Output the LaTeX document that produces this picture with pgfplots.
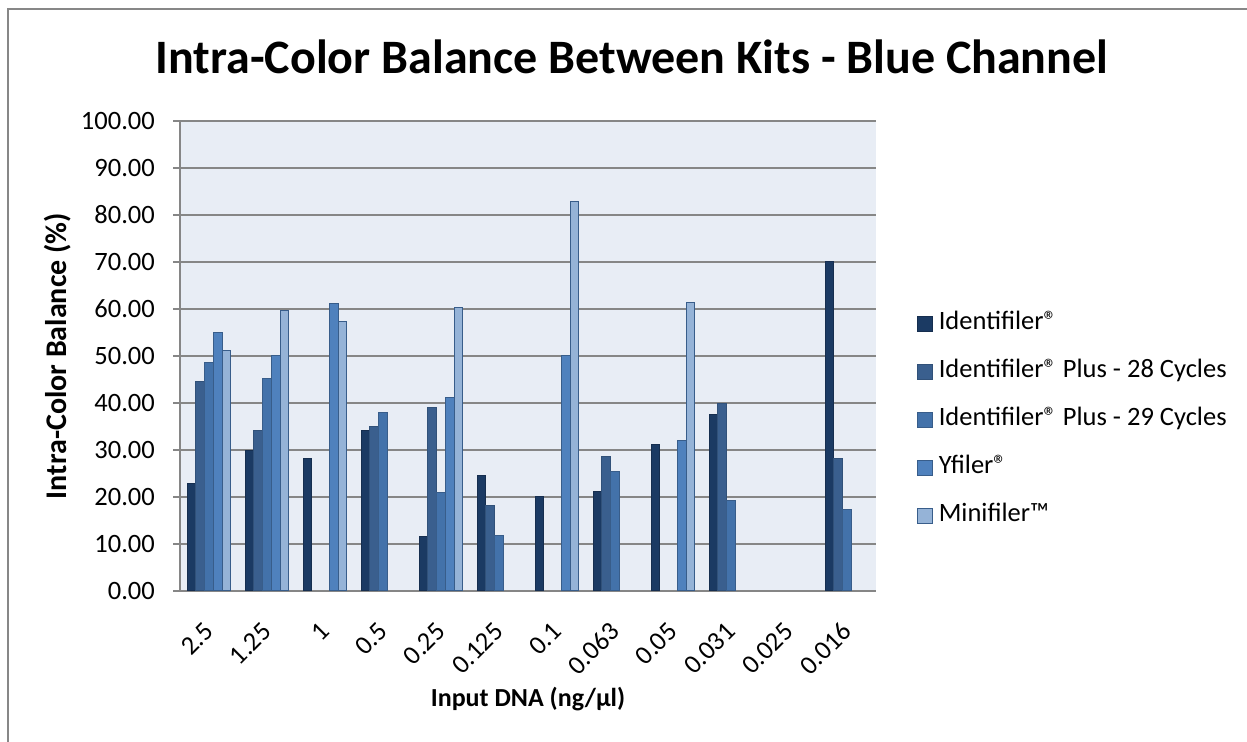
\documentclass[border=0pt]{standalone}
\usepackage{pgfplots}
\pgfplotsset{compat=1.18}
\usepackage{fontspec}
\setmainfont{Carlito}
\definecolor{cA}{HTML}{1B3A63}
\definecolor{cB}{HTML}{3A5F8E}
\definecolor{cC}{HTML}{4372AA}
\definecolor{cD}{HTML}{4F81BD}
\definecolor{cE}{HTML}{95B3D7}
\definecolor{edge}{HTML}{385D8A}
\definecolor{bgblue}{HTML}{E8EDF5}
\definecolor{gridgray}{HTML}{868686}
\definecolor{framegray}{HTML}{878787}
\newcommand\tickfont{\fontsize{26.5bp}{31bp}\selectfont}
\begin{document}
\begin{tikzpicture}
\useasboundingbox (0,0) rectangle (1247bp,742bp);
\fill[white] (0,0) rectangle (1247bp,742bp);
\draw[framegray, line width=1.5bp] (8bp,0) -- (8bp,733bp) -- (1247bp,733bp);
\node[font=\bfseries\fontsize{48bp}{57bp}\selectfont, anchor=base] at (632bp,668bp) {Intra-Color Balance Between Kits - Blue Channel};
\begin{axis}[
  at={(180bp,151bp)}, anchor=south west,
  width=696bp, height=470bp, scale only axis,
  ymin=0, ymax=100, ytick={0,10,...,100},
  xmin=-0.5, xmax=11.5, xtick={0,...,11},
  xticklabels={2.5,1.25,1,0.5,0.25,0.125,0.1,0.063,0.05,0.031,0.025,0.016},
  ybar=0pt, bar width=0.15,
  axis background/.style={fill=bgblue},
  ymajorgrids, grid style={gridgray, line width=1.2bp},
  axis x line*=bottom, axis y line*=left,
  axis line style={gridgray, line width=1.2bp},
  tick align=outside, major tick length=7bp,
  ytick style={gridgray, line width=1.2bp},
  xtick style={draw=none},
  /pgf/number format/assume math mode=true,
  yticklabel style={/pgf/number format/.cd, fixed, fixed zerofill, precision=2, /tikz/.cd, font=\tickfont, anchor=east, inner sep=0pt, xshift=-18bp},
  xticklabel style={font=\tickfont, yshift=-29bp, rotate=45, anchor=east, inner sep=0pt},
  xlabel={Input DNA (ng/µl)},
  ylabel={Intra-Color Balance (\%)},
  xlabel style={font=\bfseries\fontsize{26bp}{31bp}\selectfont, at={(axis description cs:0.5,-0.2468)}, anchor=base},
  ylabel style={font=\bfseries\fontsize{30bp}{36bp}\selectfont, at={(axis description cs:-0.1753,0.5)}, anchor=center},
  legend cell align=left,
  legend image code/.code={\draw[#1, line width=0.8bp] (0bp,-7.5bp) rectangle (15bp,7.5bp);},
  legend style={draw=none, fill=none, at={(axis description cs:1.0589,0.364)}, anchor=west, inner sep=0pt, outer sep=0pt, row sep=24bp, column sep=6bp, font=\fontsize{26.5bp}{31bp}\selectfont, nodes={inner sep=0pt, text height=18bp, text depth=6bp}},
  every axis plot/.append style={draw=edge, line width=1bp},
]
\addplot[fill=cA, draw=cA!80!black] coordinates {(0,22.9) (1,29.9) (2,28.2) (3,34.2) (4,11.7) (5,24.5) (6,20.1) (7,21.1) (8,31.1) (9,37.6) (11,70.1)};
\addplot[fill=cB, draw=cB!85!black] coordinates {(0,44.6) (1,34.2) (3,35.0) (4,39.0) (5,18.2) (7,28.7) (9,39.9) (11,28.2)};
\addplot[fill=cC, draw=edge] coordinates {(0,48.6) (1,45.2) (3,38.0) (4,21.0) (5,11.9) (7,25.4) (9,19.3) (11,17.4)};
\addplot[fill=cD, draw=edge] coordinates {(0,55.1) (1,50.1) (2,61.1) (4,41.1) (6,50.1) (8,32.1)};
\addplot[fill=cE, draw=edge] coordinates {(0,51.1) (1,59.7) (2,57.4) (4,60.4) (6,82.8) (8,61.4)};
\legend{Identifiler®, Identifiler® Plus - 28 Cycles, Identifiler® Plus - 29 Cycles, Yfiler®, Minifiler™}
\end{axis}
\end{tikzpicture}
\end{document}
